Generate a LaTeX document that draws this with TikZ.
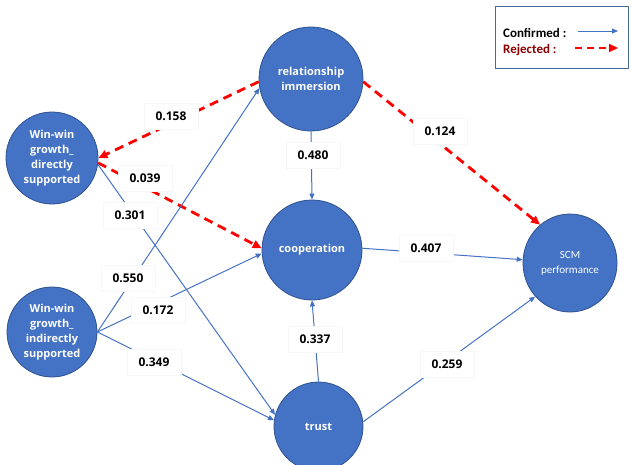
\documentclass[tikz,border=0pt]{standalone}
\usepackage{fontspec}
\setmainfont{Open Sans}
\newfontfamily\calfont{Carlito}
\usetikzlibrary{arrows.meta,shapes.geometric}
\definecolor{nodeblue}{HTML}{4472C4}
\definecolor{nodeedge}{HTML}{2F528F}
\definecolor{lineblue}{HTML}{4472C4}
\definecolor{rejred}{HTML}{FF0000}
\definecolor{darkred}{HTML}{8B0000}
\definecolor{legendc}{HTML}{4A6A9A}
\tikzset{
 latent/.style={circle, fill=nodeblue, draw=nodeedge, line width=0.8pt, text=white,
   font=\fontsize{11}{15}\selectfont\bfseries, align=center, inner sep=0pt},
 conf/.style={draw=lineblue, line width=1.0pt, -{Triangle[length=6pt,width=5pt]}},
 rej/.style={draw=rejred, line width=2.8pt, dash pattern=on 9pt off 6pt,
   -{Triangle[length=9pt,width=8pt]}},
 coef/.style={fill=white, draw=gray!6, line width=0.4pt,
   font=\fontsize{12}{14}\selectfont\bfseries, minimum width=54pt, minimum height=26pt, inner sep=1pt},
 legtext/.style={font=\calfont\bfseries\fontsize{13}{15}\selectfont, anchor=west, inner sep=0pt},
}
\begin{document}
\begin{tikzpicture}[x=1pt,y=-1pt]
\useasboundingbox (0,0) rectangle (631,464);
% nodes
\node[latent, minimum size=104pt] (ri) at (311,79) {relationship\\immersion};
\node[latent, minimum size=100pt] (coop) at (312,250) {cooperation};
\node[latent, minimum size=89pt] (trust) at (318.5,426.5) {trust};
\node[ellipse, fill=nodeblue, draw=nodeedge, line width=0.8pt, text=white, align=center,
  inner sep=0pt, minimum width=94pt, minimum height=98pt,
  font=\calfont\fontsize{11}{15}\selectfont] (scm) at (570,263) {SCM\\performance};
\node[latent, minimum size=92pt] (wwd) at (52,158) {Win-win\\growth\_\\directly\\supported};
\node[latent, minimum size=90pt] (wwi) at (52,332) {Win-win\\growth\_\\indirectly\\supported};
% connectors
\draw[rej] (ri.183) -- (wwd.0);
\draw[rej] (wwd.-6) -- (coop.178);
\draw[rej] (ri.-3) -- (scm.128);
\draw[conf] (wwd.-8) -- (trust.165);
\draw[conf] (wwi.east) -- (ri.190);
\draw[conf] (wwi.east) -- (coop.184);
\draw[conf] (wwi.east) -- (trust.172);
\draw[conf] (ri.south) -- (coop.north);
\draw[conf] (trust.north) -- (coop.south);
\draw[conf] (coop.2) -- (scm.176);
\draw[conf] (trust.6) -- (scm.224);
% coefficient labels
\node[coef] (l158) at (171,116) {0.158};
\node[coef] (l039) at (145,178) {0.039};
\node[coef] (l301) at (130,215) {0.301};
\node[coef] (l550) at (128,278) {0.550};
\node[coef] (l172) at (158,310) {0.172};
\node[coef] (l349) at (154,362) {0.349};
\node[coef] (l480) at (313,155) {0.480};
\node[coef] (l124) at (440,131) {0.124};
\node[coef] (l407) at (426,248) {0.407};
\node[coef] (l337) at (315,339) {0.337};
\node[coef] (l259) at (447,364) {0.259};
% legend
\node[draw=legendc, line width=1.2pt, minimum width=133pt, minimum height=62pt,
  anchor=north west, inner sep=0pt] (legend) at (495,6) {};
\node[legtext] (conft) at (503,33) {Confirmed :};
\node[legtext, text=darkred] (rejt) at (503,50) {Rejected :};
\coordinate (c1) at (578,31);
\coordinate (c2) at (618,31);
\coordinate (r1) at (575,48);
\coordinate (r2) at (618,48);
\draw[conf, line width=0.8pt] (c1) -- (c2);
\draw[rej, line width=2pt, dash pattern=on 7pt off 5pt] (r1) -- (r2);
\end{tikzpicture}
\end{document}
